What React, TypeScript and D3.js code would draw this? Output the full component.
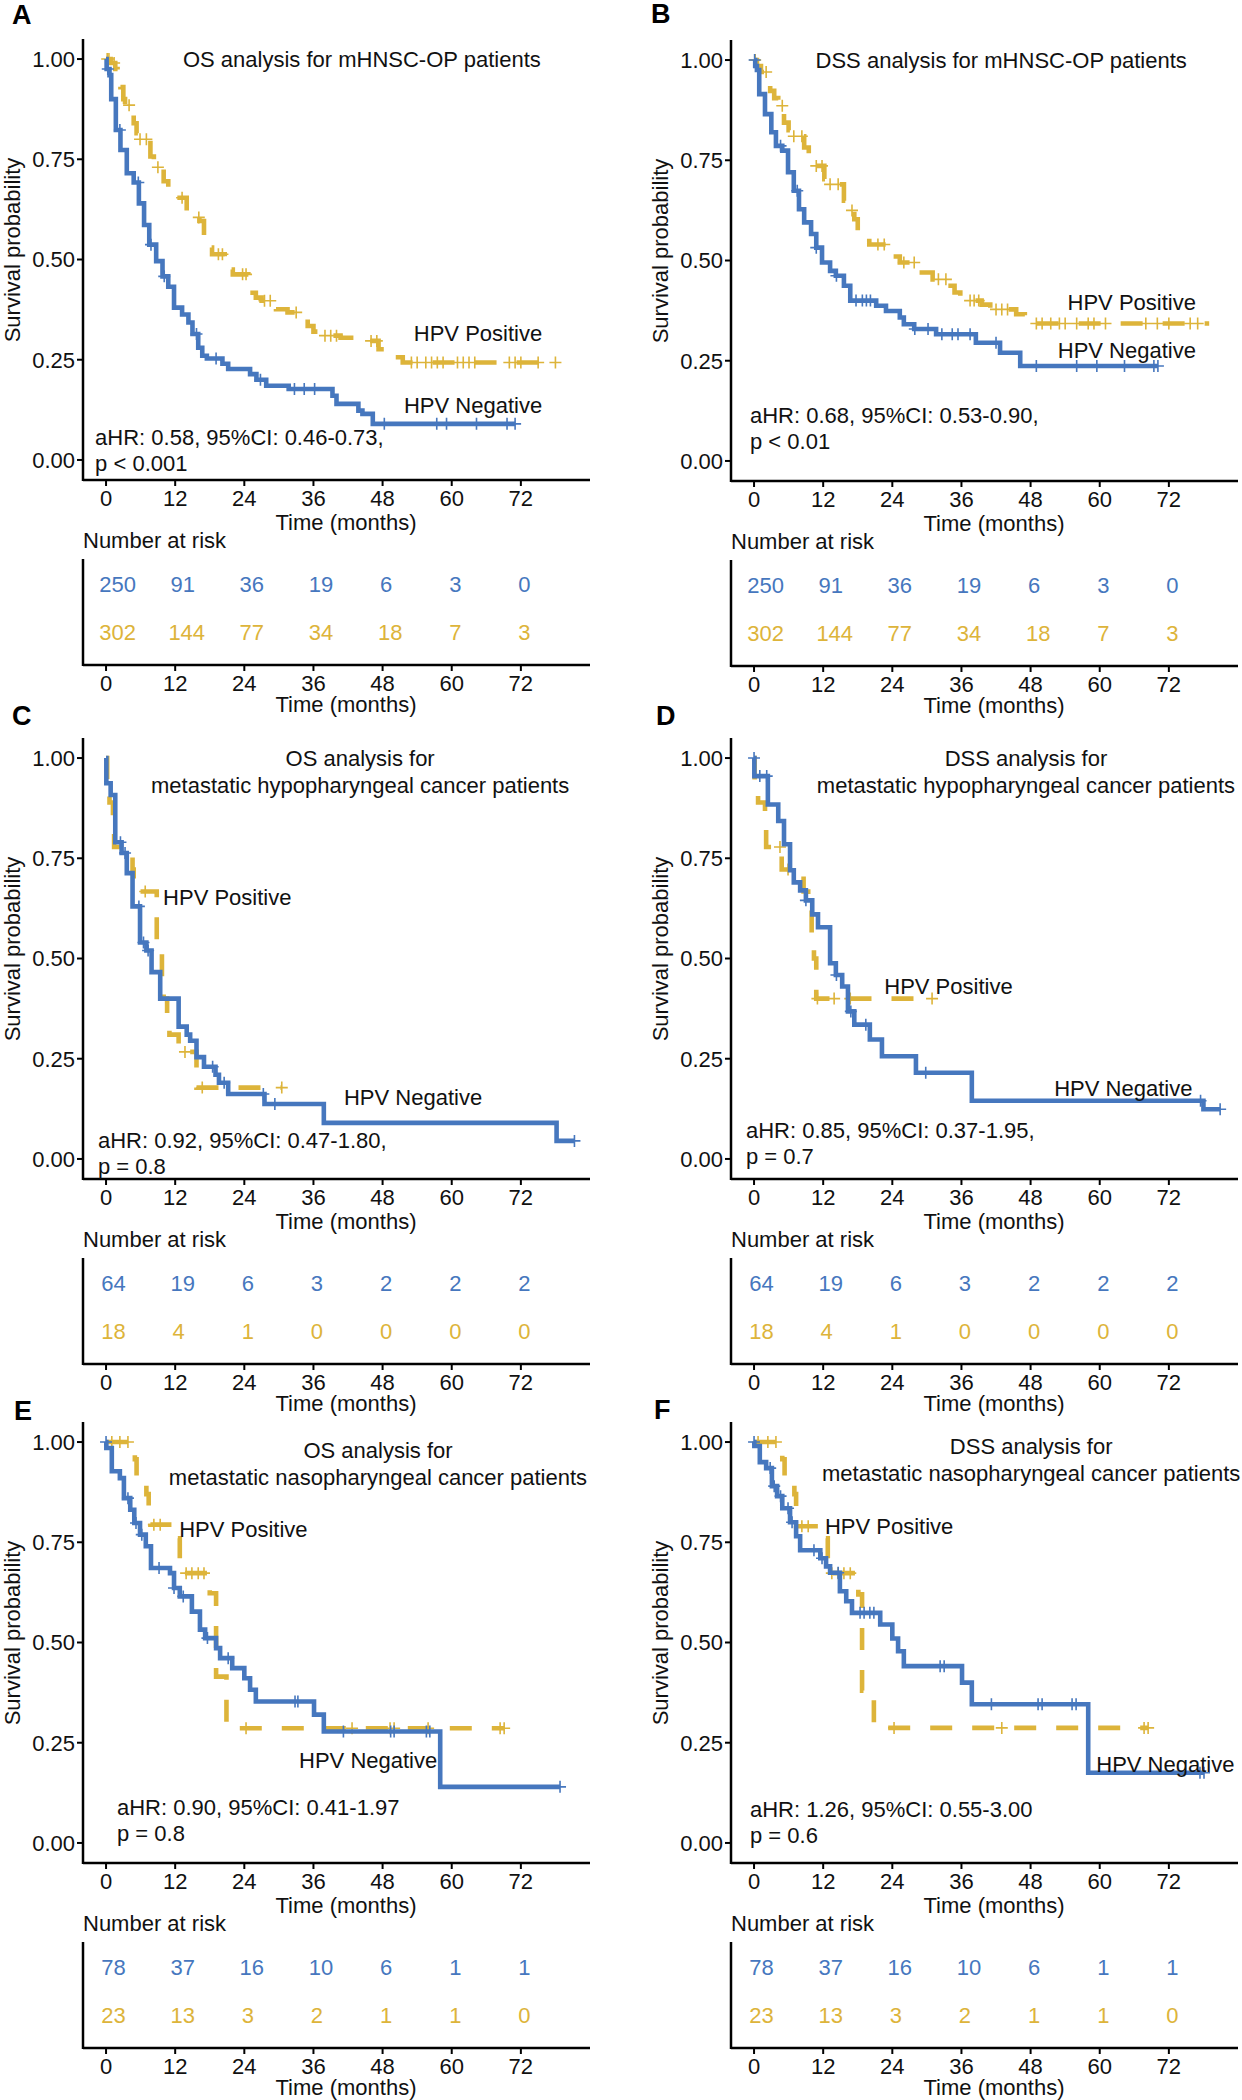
import React from "react";
import * as d3 from "d3";

type Step = [number, number];

// ---------- shared axis / table labels ----------
const TIME_TICKS = [0, 12, 24, 36, 48, 60, 72];
const SURV_TICKS = [0, 0.25, 0.5, 0.75, 1];
const SURV_TICK_LABELS = ["0.00", "0.25", "0.50", "0.75", "1.00"];
const X_TITLE = "Time (months)";
const Y_TITLE = "Survival probability";
const RISK_TITLE = "Number at risk";
const LABEL_NEG = "HPV Negative";
const LABEL_POS = "HPV Positive";
const COLOR_NEG = "#4677BE";
const COLOR_POS = "#DDB43A";

// ---------- Panel A: OS, mHNSC-OP ----------
const A_NEG: Step[] = [[0,1],[0.1,0.975],[0.6,0.96],[0.9,0.9],[1.7,0.823],[2.5,0.773],[3.6,0.715],[4.8,0.692],[5.7,0.64],[6.6,0.586],[7.5,0.537],[8.7,0.496],[9.8,0.458],[10.8,0.432],[11.8,0.38],[13.2,0.363],[14.3,0.343],[15.0,0.314],[16.0,0.28],[16.7,0.26],[17.5,0.253],[20.2,0.24],[21.2,0.227],[25.0,0.214],[26.1,0.2],[27.8,0.185],[31.7,0.177],[39.3,0.16],[40.0,0.14],[43.8,0.123],[44.5,0.115],[46.3,0.09]];
const A_NEG_END = 71.0;
const A_NEG_CENS = [0.3,2.4,5.6,7.8,10.1,15.7,19.1,26.8,32.7,34.4,36.2,48.3,57.4,59.1,64.3,69.6,71.0];
const A_POS: Step[] = [[0,1],[0.8,0.99],[1.6,0.975],[2.0,0.96],[2.5,0.93],[3.0,0.9],[3.3,0.885],[4.8,0.84],[5.3,0.815],[5.8,0.8],[7.7,0.757],[8.3,0.745],[9.0,0.73],[10.0,0.695],[10.8,0.675],[11.8,0.654],[14.0,0.617],[15.5,0.605],[16.2,0.596],[17.0,0.55],[17.8,0.53],[18.4,0.513],[20.6,0.475],[22.0,0.463],[24.7,0.417],[26.0,0.405],[27.0,0.397],[29.5,0.376],[31.5,0.368],[35.0,0.334],[36.0,0.32],[37.0,0.31],[40.7,0.305],[43.0,0.297],[47.3,0.276],[48.5,0.265],[50.0,0.256],[51.5,0.243]];
const A_POS_END = 78.0;
const A_POS_CENS = [0.2,0.5,1.4,4.0,5.9,7.0,9.0,13.2,16.1,19.5,20.2,23.7,24.3,27.5,28.5,33.0,38.0,39.0,40.0,46.0,47.0,53.0,54.0,55.5,56.5,57.5,58.5,61.0,62.0,63.0,64.0,70.0,71.0,72.0,75.0,78.0];
const A_RISK_NEG = [250, 91, 36, 19, 6, 3, 0];
const A_RISK_POS = [302, 144, 77, 34, 18, 7, 3];

// ---------- Panel B: DSS, mHNSC-OP ----------
const B_NEG: Step[] = [[0,1],[0.2,0.985],[0.5,0.975],[0.9,0.915],[1.9,0.865],[3.0,0.82],[3.8,0.786],[4.9,0.774],[5.9,0.72],[6.9,0.674],[7.8,0.628],[8.7,0.595],[9.9,0.566],[10.8,0.532],[11.8,0.495],[13.2,0.474],[14.2,0.462],[15.6,0.437],[16.7,0.4],[21.2,0.387],[22.9,0.374],[25.3,0.358],[26.0,0.341],[27.8,0.329],[31.6,0.316],[38.5,0.295],[42.7,0.27],[46.2,0.237]];
const B_NEG_END = 70.1;
const B_NEG_CENS = [0.1,4.6,7.5,10.8,14.3,17.7,18.8,19.5,20.2,27.9,30.2,32.6,34.4,35.4,37.5,42.0,49.0,56.0,59.5,64.3,69.4,70.1];
const B_POS: Step[] = [[0,1],[0.5,0.985],[1.2,0.97],[2.8,0.923],[3.5,0.905],[4.2,0.886],[5.2,0.844],[6.0,0.825],[6.9,0.81],[8.7,0.782],[9.5,0.755],[10.4,0.736],[12.2,0.703],[13.2,0.69],[15.6,0.649],[16.5,0.625],[17.4,0.603],[18.0,0.57],[19.0,0.555],[20.0,0.54],[23.0,0.524],[24.2,0.51],[25.3,0.495],[28.5,0.47],[31.0,0.453],[33.7,0.437],[34.8,0.42],[35.8,0.4],[39.5,0.39],[41.0,0.378],[45.5,0.366],[47.0,0.352],[48.0,0.343]];
const B_POS_END = 79.0;
const B_POS_CENS = [0.2,2.1,4.9,6.9,8.3,10.8,11.8,13.2,14.6,17.0,21.5,22.6,26.0,27.8,32.0,33.3,37.5,38.2,39.0,42.0,43.0,44.0,49.0,50.0,51.5,53.0,54.0,56.0,58.0,59.0,61.0,68.0,70.0,72.0,75.7,77.0];
const B_RISK_NEG = [250, 91, 36, 19, 6, 3, 0];
const B_RISK_POS = [302, 144, 77, 34, 18, 7, 3];

// ---------- Panel C: OS, hypopharyngeal ----------
const C_NEG: Step[] = [[0,1],[0.05,0.937],[0.8,0.908],[1.6,0.79],[2.7,0.763],[3.6,0.713],[4.6,0.63],[5.9,0.54],[7.0,0.52],[7.9,0.466],[9.4,0.4],[12.6,0.33],[14.0,0.31],[14.6,0.295],[15.7,0.254],[17.0,0.23],[19.0,0.21],[19.6,0.19],[21.2,0.162],[27.5,0.137],[37.8,0.09],[78.2,0.045]];
const C_NEG_END = 81.3;
const C_NEG_CENS = [2.5,3.3,5.7,6.5,7.3,18.5,20.5,27.3,29.3,81.3];
const C_POS: Step[] = [[0,1],[0.2,0.944],[0.6,0.889],[1.2,0.833],[1.4,0.778],[4.6,0.722],[4.8,0.667],[8.8,0.533],[9.7,0.444],[10.0,0.4],[10.6,0.36],[11.0,0.31],[12.6,0.267],[15.7,0.178]];
const C_POS_END = 30.5;
const C_POS_CENS = [6.8,13.7,16.7,30.5];
const C_RISK_NEG = [64, 19, 6, 3, 2, 2, 2];
const C_RISK_POS = [18, 4, 1, 0, 0, 0, 0];

// ---------- Panel D: DSS, hypopharyngeal ----------
const D_NEG: Step[] = [[0,1],[0.05,0.955],[2.4,0.884],[4.2,0.843],[5.2,0.785],[6.25,0.72],[6.9,0.69],[8.0,0.67],[9.0,0.645],[10.1,0.61],[11.1,0.578],[13.2,0.488],[14.2,0.459],[15.3,0.43],[16.3,0.368],[17.4,0.335],[20.1,0.298],[22.2,0.256],[28.1,0.215],[37.8,0.145],[78.0,0.124]];
const D_NEG_END = 80.9;
const D_NEG_CENS = [0.0,1.0,2.2,9.0,14.3,16.8,19.4,29.8,77.5,80.9];
const D_POS: Step[] = [[0,1],[0.1,0.944],[0.7,0.889],[1.9,0.833],[2.1,0.778],[4.8,0.722],[8.6,0.667],[9.4,0.63],[10.0,0.55],[10.4,0.5],[10.8,0.4]];
const D_POS_END = 30.9;
const D_POS_CENS = [4.5,5.9,11.0,13.9,16.7,30.9];
const D_RISK_NEG = [64, 19, 6, 3, 2, 2, 2];
const D_RISK_POS = [18, 4, 1, 0, 0, 0, 0];

// ---------- Panel E: OS, nasopharyngeal ----------
const E_NEG: Step[] = [[0,1],[0.05,0.985],[1.0,0.927],[2.4,0.91],[3.1,0.86],[4.2,0.831],[4.9,0.798],[5.9,0.769],[6.9,0.74],[7.8,0.686],[11.1,0.673],[11.8,0.636],[12.8,0.615],[14.9,0.577],[16.3,0.532],[17.2,0.511],[19.1,0.486],[19.8,0.461],[21.9,0.436],[24.0,0.411],[25.0,0.382],[26.0,0.353],[36.1,0.32],[37.8,0.278],[58.0,0.14]];
const E_NEG_END = 78.8;
const E_NEG_CENS = [0.0,3.8,5.2,6.2,9.2,11.8,13.4,17.6,21.2,32.8,33.3,41.2,49.4,50.0,55.6,56.2,78.8];
const E_POS: Step[] = [[0,1],[5.0,0.957],[5.3,0.913],[7.0,0.87],[7.4,0.826],[7.7,0.794],[12.2,0.76],[12.8,0.673],[18.0,0.623],[19.1,0.415],[20.9,0.286]];
const E_POS_END = 69.1;
const E_POS_CENS = [1.0,2.4,3.8,8.3,9.4,13.9,14.9,16.0,17.0,24.3,42.7,49.3,50.0,55.9,68.4,69.1];
const E_RISK_NEG = [78, 37, 16, 10, 6, 1, 1];
const E_RISK_POS = [23, 13, 3, 2, 1, 1, 0];

// ---------- Panel F: DSS, nasopharyngeal ----------
const F_NEG: Step[] = [[0,1],[0.05,0.99],[1.0,0.95],[2.1,0.935],[3.1,0.89],[4.0,0.865],[4.9,0.835],[6.25,0.8],[7.3,0.765],[8.0,0.73],[11.5,0.71],[12.5,0.69],[13.2,0.674],[14.9,0.628],[16.0,0.603],[17.0,0.574],[21.9,0.545],[24.0,0.51],[25.0,0.478],[26.0,0.441],[36.1,0.4],[37.8,0.346],[58.0,0.175]];
const F_NEG_END = 78.1;
const F_NEG_CENS = [0.0,2.8,3.5,4.6,5.9,6.6,10.4,11.8,14.6,18.4,19.1,20.1,20.8,32.3,33.0,41.2,49.3,50.0,55.2,55.9,77.4,78.1];
const F_POS: Step[] = [[0,1],[4.9,0.957],[5.3,0.913],[7.0,0.87],[7.3,0.79],[12.2,0.76],[12.8,0.673],[18.1,0.62],[18.75,0.38],[20.8,0.287]];
const F_POS_END = 68.4;
const F_POS_CENS = [0.7,2.4,3.8,8.3,9.4,13.5,14.6,15.6,16.7,24.3,43.0,67.7,68.4];
const F_RISK_NEG = [78, 37, 16, 10, 6, 1, 1];
const F_RISK_POS = [23, 13, 3, 2, 1, 1, 0];

// ---------- panel options (layout + texts) ----------
type Panel = {
  letter: string; dx: number; dy: number; letterX: number; letterY: number;
  title: string[]; titleAt: [number, number];
  posAt: [number, number]; posAnchor: "start" | "end";
  negAt: [number, number]; negAnchor: "start" | "end";
  stat: string[]; statAt: [number, number];
  neg: Step[]; negEnd: number; negCens: number[];
  pos: Step[]; posEnd: number; posCens: number[];
  riskNeg: number[]; riskPos: number[];
};

const PANELS: Panel[] = [
  { letter: "A", dx: 0, dy: 0, letterX: 12, letterY: 24,
    title: ["OS analysis for mHNSC-OP patients"], titleAt: [44.4, 1.0],
    posAt: [75.7, 0.317], posAnchor: "end", negAt: [75.7, 0.137], negAnchor: "end",
    stat: ["aHR: 0.58, 95%CI: 0.46-0.73,", "p < 0.001"], statAt: [-1.9, 0.057],
    neg: A_NEG, negEnd: A_NEG_END, negCens: A_NEG_CENS, pos: A_POS, posEnd: A_POS_END, posCens: A_POS_CENS,
    riskNeg: A_RISK_NEG, riskPos: A_RISK_POS },
  { letter: "B", dx: 648, dy: 1, letterX: 3, letterY: 22,
    title: ["DSS analysis for mHNSC-OP patients"], titleAt: [42.9, 1.0],
    posAt: [76.7, 0.397], posAnchor: "end", negAt: [76.7, 0.277], negAnchor: "end",
    stat: ["aHR: 0.68, 95%CI: 0.53-0.90,", "p < 0.01"], statAt: [-0.7, 0.115],
    neg: B_NEG, negEnd: B_NEG_END, negCens: B_NEG_CENS, pos: B_POS, posEnd: B_POS_END, posCens: B_POS_CENS,
    riskNeg: B_RISK_NEG, riskPos: B_RISK_POS },
  { letter: "C", dx: 0, dy: 699, letterX: 12, letterY: 26,
    title: ["OS analysis for", "metastatic hypopharyngeal cancer patients"], titleAt: [44.1, 1.0],
    posAt: [9.9, 0.653], posAnchor: "start", negAt: [41.3, 0.155], negAnchor: "start",
    stat: ["aHR: 0.92, 95%CI: 0.47-1.80,", "p = 0.8"], statAt: [-1.4, 0.047],
    neg: C_NEG, negEnd: C_NEG_END, negCens: C_NEG_CENS, pos: C_POS, posEnd: C_POS_END, posCens: C_POS_CENS,
    riskNeg: C_RISK_NEG, riskPos: C_RISK_POS },
  { letter: "D", dx: 648, dy: 699, letterX: 8, letterY: 26,
    title: ["DSS analysis for", "metastatic hypopharyngeal cancer patients"], titleAt: [47.2, 1.0],
    posAt: [22.6, 0.431], posAnchor: "start", negAt: [52.1, 0.177], negAnchor: "start",
    stat: ["aHR: 0.85, 95%CI: 0.37-1.95,", "p = 0.7"], statAt: [-1.4, 0.072],
    neg: D_NEG, negEnd: D_NEG_END, negCens: D_NEG_CENS, pos: D_POS, posEnd: D_POS_END, posCens: D_POS_CENS,
    riskNeg: D_RISK_NEG, riskPos: D_RISK_POS },
  { letter: "E", dx: 0, dy: 1383, letterX: 14, letterY: 37,
    title: ["OS analysis for", "metastatic nasopharyngeal cancer patients"], titleAt: [47.2, 0.98],
    posAt: [12.7, 0.783], posAnchor: "start", negAt: [33.5, 0.207], negAnchor: "start",
    stat: ["aHR: 0.90, 95%CI: 0.41-1.97", "p = 0.8"], statAt: [1.9, 0.09],
    neg: E_NEG, negEnd: E_NEG_END, negCens: E_NEG_CENS, pos: E_POS, posEnd: E_POS_END, posCens: E_POS_CENS,
    riskNeg: E_RISK_NEG, riskPos: E_RISK_POS },
  { letter: "F", dx: 648, dy: 1383, letterX: 6, letterY: 36,
    title: ["DSS analysis for", "metastatic nasopharyngeal cancer patients"], titleAt: [48.1, 0.99],
    posAt: [12.3, 0.79], posAnchor: "start", negAt: [59.4, 0.197], negAnchor: "start",
    stat: ["aHR: 1.26, 95%CI: 0.55-3.00", "p = 0.6"], statAt: [-0.7, 0.085],
    neg: F_NEG, negEnd: F_NEG_END, negCens: F_NEG_CENS, pos: F_POS, posEnd: F_POS_END, posCens: F_POS_CENS,
    riskNeg: F_RISK_NEG, riskPos: F_RISK_POS },
];

const FONT = "'Liberation Sans', Arial, Helvetica, sans-serif";
const FS = 22;

const x = d3.scaleLinear().domain([-4, 84]).range([83, 590]);
const y = d3.scaleLinear().domain([-0.05, 1.05]).range([480, 39]);
const riskRow = d3.scalePoint<string>().domain(["neg", "pos"]).range([584, 632]);

const stepLine = d3
  .line<Step>()
  .x((d) => x(d[0]))
  .y((d) => y(d[1]))
  .curve(d3.curveStepAfter);

function survAt(steps: Step[], t: number): number {
  let s = steps[0][1];
  for (const st of steps) if (st[0] <= t) s = st[1];
  return s;
}

function Curve({ steps, end, cens, color, dashed }: { steps: Step[]; end: number; cens: number[]; color: string; dashed: boolean }) {
  const pts: Step[] = [...steps, [end, steps[steps.length - 1][1]]];
  const plus = cens
    .map((t) => {
      const cx = x(t);
      const cy = y(survAt(steps, t));
      return `M${cx - 6},${cy}h12M${cx},${cy - 6}v12`;
    })
    .join("");
  return (
    <g>
      <path d={stepLine(pts) || ""} fill="none" stroke={color} strokeWidth={4.6}
        strokeDasharray={dashed ? "22 20" : undefined} strokeLinecap="butt" strokeLinejoin="miter" />
      <path d={plus} fill="none" stroke={color} strokeWidth={1.6} />
    </g>
  );
}

function XAxis({ y0 }: { y0: number }) {
  return (
    <g>
      <line x1={83} x2={590} y1={y0} y2={y0} stroke="#000" strokeWidth={2.5} />
      {TIME_TICKS.map((t) => (
        <g key={t}>
          <line x1={x(t)} x2={x(t)} y1={y0} y2={y0 + 6} stroke="#000" strokeWidth={2} />
          <text x={x(t)} y={y0 + 18} dy="0.36em" textAnchor="middle" fontSize={FS} fill="#111">{t}</text>
        </g>
      ))}
    </g>
  );
}

function PanelView({ p }: { p: Panel }) {
  const lineH = 27;
  return (
    <g transform={`translate(${p.dx},${p.dy})`} fontFamily={FONT}>
      <text x={p.letterX} y={p.letterY} fontSize={27} fontWeight="bold" fill="#000">{p.letter}</text>
      {/* y axis */}
      <line x1={83} x2={83} y1={39} y2={481} stroke="#000" strokeWidth={2.5} />
      {SURV_TICKS.map((s, i) => (
        <g key={s}>
          <line x1={77} x2={83} y1={y(s)} y2={y(s)} stroke="#000" strokeWidth={2} />
          <text x={75} y={y(s)} dy="0.36em" textAnchor="end" fontSize={FS} fill="#111">{SURV_TICK_LABELS[i]}</text>
        </g>
      ))}
      <text transform={`translate(12,250) rotate(-90)`} dy="0.36em" textAnchor="middle" fontSize={FS} fill="#111">{Y_TITLE}</text>
      <XAxis y0={480} />
      <text x={346} y={522} dy="0.36em" textAnchor="middle" fontSize={FS} fill="#111">{X_TITLE}</text>

      {/* curves */}
      <Curve steps={p.pos} end={p.posEnd} cens={p.posCens} color={COLOR_POS} dashed={true} />
      <Curve steps={p.neg} end={p.negEnd} cens={p.negCens} color={COLOR_NEG} dashed={false} />

      {/* annotations */}
      <text x={x(p.titleAt[0])} y={y(p.titleAt[1])} textAnchor="middle" fontSize={FS} fill="#111">
        {p.title.map((l, i) => (
          <tspan key={i} x={x(p.titleAt[0])} dy={i === 0 ? "0.36em" : lineH}>{l}</tspan>
        ))}
      </text>
      <text x={x(p.posAt[0])} y={y(p.posAt[1])} dy="0.36em" textAnchor={p.posAnchor} fontSize={FS} fill="#111">{LABEL_POS}</text>
      <text x={x(p.negAt[0])} y={y(p.negAt[1])} dy="0.36em" textAnchor={p.negAnchor} fontSize={FS} fill="#111">{LABEL_NEG}</text>
      <text x={x(p.statAt[0])} y={y(p.statAt[1])} fontSize={FS} fill="#111">
        {p.stat.map((l, i) => (
          <tspan key={i} x={x(p.statAt[0])} dy={i === 0 ? "0.36em" : 26}>{l}</tspan>
        ))}
      </text>

      {/* risk table */}
      <text x={83} y={540} dy="0.36em" fontSize={FS} fill="#111">{RISK_TITLE}</text>
      <line x1={83} x2={83} y1={559} y2={666} stroke="#000" strokeWidth={2.5} />
      {TIME_TICKS.map((t, i) => {
        const a = String(p.riskNeg[i]);
        const b = String(p.riskPos[i]);
        return (
          <g key={t}>
            <text x={x(t) - 2.1 * a.length - 0.5} y={riskRow("neg")} dy="0.36em" fontSize={FS} fill={COLOR_NEG}>{a}</text>
            <text x={x(t) - 2.1 * b.length - 0.5} y={riskRow("pos")} dy="0.36em" fontSize={FS} fill={COLOR_POS}>{b}</text>
          </g>
        );
      })}
      <g transform="translate(0,185)">
        <XAxis y0={480} />
      </g>
      <text x={346} y={704} dy="0.36em" textAnchor="middle" fontSize={FS} fill="#111">{X_TITLE}</text>
    </g>
  );
}

export default function App() {
  return (
    <svg width={1242} height={2100} viewBox="0 0 1242 2100"
      style={{ position: "absolute", left: 0, top: 0, background: "#fff" }}>
      <rect width={1242} height={2100} fill="#fff" />
      {PANELS.map((p) => <PanelView key={p.letter} p={p} />)}
    </svg>
  );
}
